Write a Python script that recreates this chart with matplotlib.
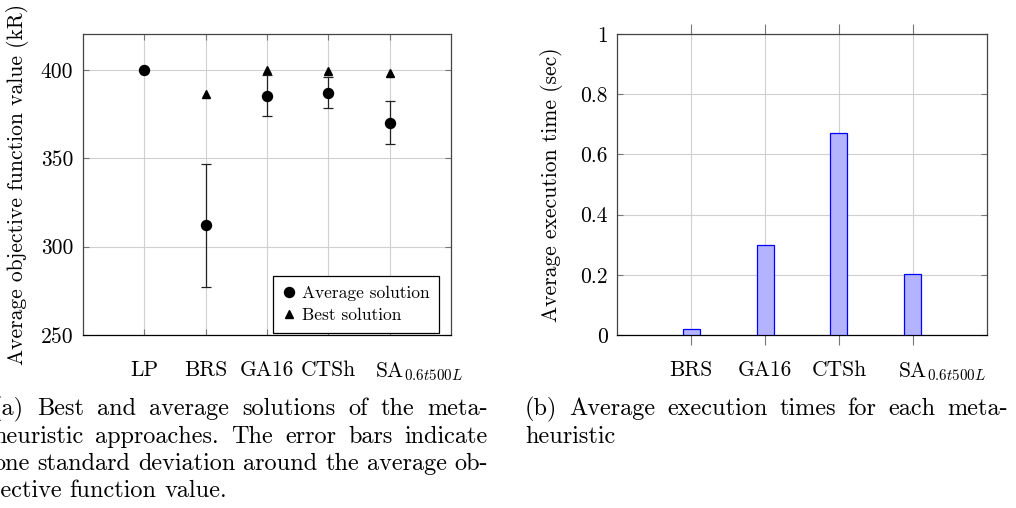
import numpy as np
import matplotlib
matplotlib.use("Agg")
import matplotlib.pyplot as plt
from matplotlib.transforms import ScaledTranslation

plt.rcParams['font.family'] = 'cmr10'
plt.rcParams['mathtext.fontset'] = 'cm'
plt.rcParams['axes.formatter.use_mathtext'] = True
plt.rcParams['axes.unicode_minus'] = False

# (a) objective values
methods = ["LP", "BRS", "GA16", "CTSh", r"SA$_{0.6t500L}$"]
avg_solution = [400.0, 312.0, 385.5, 387.0, 370.2]
std_solution = [np.nan, 35.0, 11.5, 8.7, 12.4]
best_solution = [np.nan, 386.3, 400.0, 399.6, 398.3]
yticks_a = [250, 300, 350, 400]

# (b) execution times
methods_b = ["BRS", "GA16", "CTSh", r"SA$_{0.6t500L}$"]
exec_time = [0.02, 0.30, 0.67, 0.202]
yticks_b = [0, 0.2, 0.4, 0.6, 0.8, 1.0]
yticklabels_b = ["0", "0.2", "0.4", "0.6", "0.8", "1"]

caption_a = ["(a) Best and average solutions of the meta-",
             "heuristic approaches. The error bars indicate",
             "one standard deviation around the average ob-",
             "jective function value."]
caption_b = ["(b) Average execution times for each meta-",
             "heuristic"]

W, H = 1016, 508
fig = plt.figure(figsize=(W / 100, H / 100), dpi=100)

grid_c = "#d0d0d0"
tick_c = "#777777"
spine_c = "#444444"
fs = 15.5

def style_axes(ax):
    ax.grid(True, color=grid_c, linewidth=0.8)
    ax.set_axisbelow(True)
    for s in ax.spines.values():
        s.set_color(spine_c)
        s.set_linewidth(0.9)
    ax.spines['bottom'].set_color('black')

def hang_subscript(ax):
    # "SA" sits on the tick, the subscript hangs out to the right
    lab = ax.get_xticklabels()[-1]
    lab.set_horizontalalignment('left')
    lab.set_transform(lab.get_transform() + ScaledTranslation(-0.15, 0, fig.dpi_scale_trans))

# ---- left panel
ax1 = fig.add_axes([83 / W, 1 - 335 / H, 368 / W, 301 / H])
xa = np.arange(1, len(methods) + 1)
ax1.errorbar(xa, avg_solution, yerr=std_solution, fmt='none', ecolor='#222222',
             elinewidth=0.9, capsize=3.6, capthick=0.9, zorder=2)
ax1.plot(xa, avg_solution, 'o', color='black', markersize=7.2, zorder=3,
         label="Average solution")
ax1.plot(xa, best_solution, '^', color='black', markersize=5.5, zorder=3,
         label="Best solution")
ax1.set_xlim(0, len(methods) + 1)
ax1.set_ylim(250, 420.3)
ax1.set_xticks(xa)
ax1.set_xticklabels(methods)
ax1.set_yticks(yticks_a)
ax1.set_yticklabels([str(v) for v in yticks_a])
ax1.tick_params(axis='both', direction='in', length=4.5, color=tick_c,
                top=True, right=True, labelsize=fs)
ax1.tick_params(axis='x', pad=18)
ax1.tick_params(axis='y', pad=7)
ax1.set_ylabel("Average objective function value (kR)", fontsize=fs)
ax1.yaxis.set_label_coords(-(83 - 29) / 368, 0.5)
style_axes(ax1)
hang_subscript(ax1)
leg = ax1.legend(loc='lower right', bbox_to_anchor=(0.968, 0.007), borderaxespad=0,
                 fontsize=12.5, frameon=True, fancybox=False, edgecolor='black',
                 framealpha=1, handlelength=0.7, handletextpad=0.4,
                 borderpad=0.55, labelspacing=0.4)
leg.get_frame().set_linewidth(0.9)

# ---- right panel
ax2 = fig.add_axes([617.3 / W, 1 - 335 / H, 369.4 / W, 301 / H])
xb = np.arange(1, len(methods_b) + 1)
ax2.bar(xb, exec_time, width=0.23, color='#b3b3ff', edgecolor='#0000ff',
        linewidth=0.9, zorder=3)
ax2.set_xlim(0, len(methods_b) + 1)
ax2.set_ylim(0, 1)
ax2.set_xticks(xb)
ax2.set_xticklabels(methods_b)
ax2.set_yticks(yticks_b)
ax2.set_yticklabels(yticklabels_b)
ax2.tick_params(axis='y', direction='in', length=4.5, color=tick_c,
                right=True, labelsize=fs, pad=7)
ax2.tick_params(axis='x', direction='out', length=7, color=tick_c,
                top=True, labelsize=fs, pad=11)
ax2.set_ylabel("Average execution time (sec)", fontsize=fs)
ax2.yaxis.set_label_coords(-(617.3 - 563) / 369.4, 0.5)
style_axes(ax2)
hang_subscript(ax2)

# ---- captions (justified lines)
renderer = fig.canvas.get_renderer()

def caption_line(line, x0, x1, base, justify=True, size=17.5):
    words = line.split()
    texts = [fig.text(0, 1 - base / H, w, fontsize=size, va='baseline', ha='left')
             for w in words]
    widths = [t.get_window_extent(renderer).width for t in texts]
    if justify and len(words) > 1:
        gap = (x1 - x0 - sum(widths)) / (len(words) - 1)
    else:
        gap = size * 1.389 * 0.333
    x = x0
    for t, w in zip(texts, widths):
        t.set_x(x / W)
        x += w + gap

base_lines = [415, 443, 470, 497]
for i, line in enumerate(caption_a):
    caption_line(line, -7, 488, base_lines[i], justify=(i < len(caption_a) - 1))
for i, line in enumerate(caption_b):
    caption_line(line, 525, 1008, base_lines[i], justify=(i < len(caption_b) - 1))

fig.savefig("out.png", dpi=100)
